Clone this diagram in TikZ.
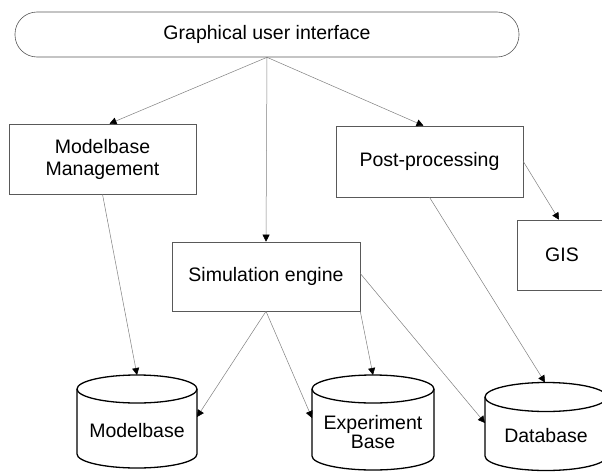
\documentclass[tikz,border=0pt]{standalone}
\usepackage{fontspec}
\setmainfont{Liberation Sans}
\usetikzlibrary{arrows.meta,calc}
\begin{document}
\begin{tikzpicture}[x=1pt,y=-1pt,
  lbl/.style={font=\fontsize{19.5}{22}\selectfont, align=center, inner sep=0pt},
  box/.style={lbl, draw=black!65, line width=0.6pt, minimum width=187pt, minimum height=70pt},
  conn/.style={draw=black!50, line width=0.5pt, -{Triangle[length=7pt,width=7pt,color=black]}},
  cyl/.style={draw=black, line width=1.3pt}]
\useasboundingbox (0,0) rectangle (602,471);
\fill[white] (0,0) rectangle (602,471);
\clip (0,0) rectangle (602,471);

% boxes
\node[lbl, draw=black!65, line width=0.6pt, minimum width=504pt, minimum height=45pt, rounded corners=22pt] (gui) at (267,34.5) {Graphical user interface};
\node[box] (mm) at (102.5,159) {Modelbase\\Management};
\node[box, minimum height=71pt] (pp) at (429.5,161.5) {Post-processing};
\node[box, minimum width=188pt, minimum height=69pt] (sim) at (266,276.5) {Simulation engine};
\node[box, minimum width=90pt] (gis) at (562,255) {GIS};

% cylinders
\draw[cyl] (137,389) ellipse [x radius=60, y radius=14];
\draw[cyl] (77,389) -- (77,454) arc[start angle=180, end angle=0, x radius=60, y radius=14] -- (197,389);
\node[lbl] (mb) at (137,431) {Modelbase};
\coordinate (mbtop) at (137,375);
\coordinate (mbright) at (197,417);

\draw[cyl] (373,389) ellipse [x radius=61, y radius=14];
\draw[cyl] (312,389) -- (312,456) arc[start angle=180, end angle=0, x radius=61, y radius=14] -- (434,389);
\node[lbl, font=\fontsize{19.5}{19}\selectfont] (eb) at (373,432.5) {Experiment\\Base};
\coordinate (ebtop) at (373,375);
\coordinate (ebleft) at (312,418);

\draw[cyl] (546,397) ellipse [x radius=61, y radius=14.5];
\draw[cyl] (485,397) -- (485,456) arc[start angle=180, end angle=0, x radius=61, y radius=14.5] -- (607,397);
\node[lbl] (db) at (546,436) {Database};
\coordinate (dbtop) at (545,382.5);
\coordinate (dbleft) at (485,423);

% connectors
\draw[conn] (gui.south) -- ([xshift=7pt]mm.north);
\draw[conn] (gui.south) -- (sim.north);
\draw[conn] (gui.south) -- ([xshift=-6pt]pp.north);
\draw[conn] (mm.south) -- (mbtop);
\draw[conn] (sim.south) -- (mbright);
\draw[conn] (sim.south) -- (ebleft);
\draw[conn] (sim.south east) -- (ebtop);
\draw[conn] ([yshift=3pt]sim.east) -- (dbleft);
\draw[conn] (pp.south) -- (dbtop);
\draw[conn] (pp.east) -- ([xshift=-3pt]gis.north);
\end{tikzpicture}
\end{document}
